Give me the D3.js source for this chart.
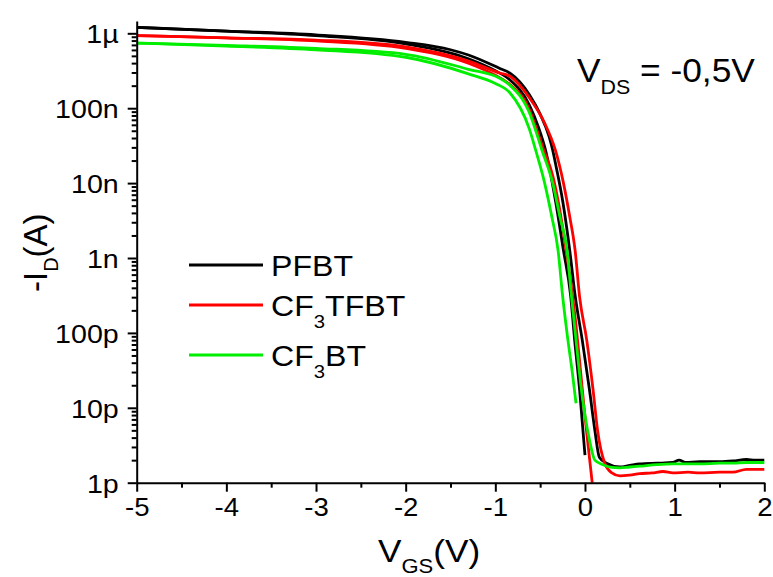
<!DOCTYPE html>
<html>
<head>
<meta charset="utf-8">
<script src="https://cdn.jsdelivr.net/npm/d3@7"></script>
<style>
  html, body { margin: 0; padding: 0; background: #fff; }
  svg { display: block; }
  text { font-family: "Liberation Sans", Arial, sans-serif; fill: #000; }
</style>
</head>
<body>
<svg id="chart" width="773" height="577"></svg>
<script>
// ---------------- data (VGS in V, -ID in A) ----------------
const xTickValues = [-5, -4, -3, -2, -1, 0, 1, 2];
const xTickLabels = ["-5", "-4", "-3", "-2", "-1", "0", "1", "2"];
const yTickValues = [1e-12, 1e-11, 1e-10, 1e-9, 1e-8, 1e-7, 1e-6];
const yTickLabels = ["1p", "10p", "100p", "1n", "10n", "100n", "1µ"];

const seriesNames = ["PFBT", "CF3TFBT", "CF3BT"];
const seriesColors = ["#000000", "#ff0000", "#00ee00"];

// PFBT : sweep from 0 V down to -5 V
const pfbtRevV = [0.00, -0.06, -0.115, -0.16, -0.24, -0.33, -0.44, -0.52, -0.62, -0.84, -1.00, -1.30, -2.00, -3.00, -4.00, -5.00];
const pfbtRevI = [2.34e-12, 1.74e-11, 7.94e-11, 3.16e-10, 1.26e-9, 5.89e-9, 2.75e-8, 5.62e-8, 1.10e-7, 2.40e-7, 3.16e-7, 4.57e-7, 7.24e-7, 9.33e-7, 1.07e-6, 1.20e-6];
// PFBT : sweep from -5 V up to 2 V
const pfbtFwdV = [-5.00, -4.00, -3.00, -2.00, -1.50, -1.30, -0.95, -0.84, -0.62, -0.50, -0.40, -0.36, -0.32, -0.25, -0.17, -0.11, -0.03, 0.05, 0.11, 0.16, 0.24, 0.39, 0.50, 0.61, 0.80, 0.98, 1.05, 1.12, 1.28, 1.50, 1.65, 1.80, 1.90, 2.00];
const pfbtFwdI = [1.20e-6, 1.07e-6, 9.55e-7, 7.59e-7, 6.03e-7, 5.13e-7, 3.39e-7, 2.95e-7, 1.51e-7, 8.32e-8, 4.17e-8, 2.75e-8, 1.62e-8, 5.89e-9, 1.26e-9, 3.16e-10, 7.94e-11, 1.74e-11, 5.01e-12, 2.19e-12, 1.82e-12, 1.62e-12, 1.70e-12, 1.78e-12, 1.82e-12, 1.86e-12, 2.00e-12, 1.86e-12, 1.91e-12, 1.91e-12, 1.95e-12, 2.04e-12, 2.00e-12, 2.00e-12];

// CF3TFBT
const cf3tfbtRevV = [0.09, 0.00, -0.05, -0.10, -0.15, -0.21, -0.29, -0.36, -0.46, -0.55, -0.62, -0.84, -1.00, -1.30, -2.00, -3.00, -4.00, -5.00];
const cf3tfbtRevI = [7.9e-13, 7.59e-12, 3.16e-11, 1.26e-10, 3.98e-10, 1.26e-9, 5.01e-9, 1.26e-8, 2.75e-8, 5.62e-8, 9.55e-8, 2.09e-7, 2.75e-7, 3.98e-7, 6.31e-7, 7.94e-7, 8.71e-7, 9.33e-7];
const cf3tfbtFwdV = [-5.00, -4.00, -3.00, -2.00, -1.30, -0.95, -0.84, -0.62, -0.45, -0.33, -0.24, -0.17, -0.11, -0.06, 0.02, 0.09, 0.14, 0.22, 0.30, 0.39, 0.50, 0.61, 0.75, 0.87, 0.98, 1.15, 1.28, 1.50, 1.65, 1.80, 2.00];
const cf3tfbtFwdI = [9.33e-7, 8.71e-7, 8.13e-7, 6.61e-7, 4.27e-7, 2.95e-7, 2.69e-7, 1.38e-7, 6.31e-8, 2.75e-8, 1.00e-8, 3.55e-9, 1.26e-9, 3.02e-10, 7.94e-11, 1.74e-11, 5.01e-12, 1.82e-12, 1.35e-12, 1.23e-12, 1.26e-12, 1.32e-12, 1.35e-12, 1.41e-12, 1.35e-12, 1.38e-12, 1.35e-12, 1.38e-12, 1.38e-12, 1.51e-12, 1.51e-12];

// CF3BT
const cf3btRevV = [-0.10, -0.14, -0.19, -0.25, -0.30, -0.37, -0.45, -0.55, -0.62, -0.84, -1.00, -1.30, -2.00, -3.00, -4.00, -5.00];
const cf3btRevI = [1.15e-11, 2.88e-11, 7.94e-11, 3.16e-10, 1.26e-9, 3.55e-9, 1.00e-8, 2.75e-8, 5.25e-8, 1.62e-7, 2.14e-7, 2.88e-7, 4.79e-7, 6.03e-7, 6.76e-7, 7.41e-7];
const cf3btFwdV = [-5.00, -4.00, -3.00, -2.00, -1.30, -0.95, -0.84, -0.62, -0.48, -0.36, -0.28, -0.20, -0.15, -0.10, -0.04, 0.05, 0.11, 0.20, 0.28, 0.39, 0.50, 0.61, 0.80, 0.98, 1.28, 1.50, 1.65, 1.80, 2.00];
const cf3btFwdI = [7.41e-7, 6.92e-7, 6.31e-7, 5.25e-7, 3.31e-7, 2.51e-7, 2.04e-7, 8.71e-8, 2.75e-8, 1.00e-8, 3.55e-9, 1.26e-9, 3.02e-10, 7.94e-11, 1.74e-11, 3.72e-12, 2.00e-12, 1.74e-12, 1.62e-12, 1.58e-12, 1.62e-12, 1.66e-12, 1.74e-12, 1.78e-12, 1.78e-12, 1.82e-12, 1.82e-12, 1.86e-12, 1.86e-12];

const sweeps = [
  { s: 0, v: pfbtRevV, i: pfbtRevI }, { s: 0, v: pfbtFwdV, i: pfbtFwdI },
  { s: 1, v: cf3tfbtRevV, i: cf3tfbtRevI }, { s: 1, v: cf3tfbtFwdV, i: cf3tfbtFwdI },
  { s: 2, v: cf3btRevV, i: cf3btRevI }, { s: 2, v: cf3btFwdV, i: cf3btFwdI }
];

// ---------------- layout ----------------
const X0 = 136.7, X1 = 764.3, YB = 482.7, YT = 21;
const svg = d3.select("#chart");

const x = d3.scaleLinear().domain([-5, 2]).range([X0, X1]);
const y = d3.scaleLog().domain([1e-12, 1.46e-6]).range([YB, YT]);

svg.append("defs").append("clipPath").attr("id", "plotclip")
  .append("rect").attr("x", X0).attr("y", 0).attr("width", X1 - X0 + 10).attr("height", YB);

const line = d3.line().x(d => x(d[0])).y(d => y(d[1])).curve(d3.curveMonotoneX);
const gLines = svg.append("g").attr("clip-path", "url(#plotclip)");
sweeps.forEach(sw => {
  const pts = sw.v.map((v, k) => [v, sw.i[k]]).sort((a, b) => a[0] - b[0]);
  gLines.append("path").datum(pts)
    .attr("d", line)
    .attr("fill", "none")
    .attr("stroke", seriesColors[sw.s])
    .attr("stroke-width", 2.8)
    .attr("stroke-linejoin", "round");
});

// ticks
const xMinor = d3.range(-4.5, 2, 1);
const yMinor = [];
yTickValues.forEach(d => { for (let m = 2; m <= 9; m++) { const v = d * m; if (v <= 1.46e-6) yMinor.push(v); } });

const gx = svg.append("g").attr("transform", `translate(0,${YB})`)
  .call(d3.axisBottom(x).tickValues(xTickValues).tickFormat((d, k) => xTickLabels[k]).tickSize(9).tickSizeOuter(0).tickPadding(4));
svg.append("g").attr("transform", `translate(0,${YB})`)
  .call(d3.axisBottom(x).tickValues(xMinor).tickFormat("").tickSize(5).tickSizeOuter(0))
  .select(".domain").remove();

const gy = svg.append("g").attr("transform", `translate(${X0},0)`)
  .call(d3.axisLeft(y).tickValues(yTickValues).tickFormat((d, k) => yTickLabels[k]).tickSize(9).tickSizeOuter(0).tickPadding(9));
svg.append("g").attr("transform", `translate(${X0},0)`)
  .call(d3.axisLeft(y).tickValues(yMinor).tickFormat("").tickSize(5).tickSizeOuter(0))
  .select(".domain").remove();

svg.selectAll(".domain").attr("stroke", "#000").attr("stroke-width", 2);
svg.selectAll(".tick line").attr("stroke", "#000").attr("stroke-width", 2);
svg.selectAll(".tick text").attr("font-size", 26).attr("font-family", "Liberation Sans, Arial, sans-serif").attr("fill", "#000");
const sxX = 1.06, sxY = 1.1;
gx.selectAll(".tick text").attr("dy", "0.78em").attr("transform", `scale(${sxX},1)`);
gy.selectAll(".tick text").attr("dy", "0.36em").attr("x", -18 / sxY).attr("transform", `scale(${sxY},1)`);

// helper for stretched text groups
function stretchedText(tx, ty, sx, rot, size) {
  const g = svg.append("g").attr("transform", `translate(${tx},${ty}) rotate(${rot}) scale(${sx},1)`);
  return g.append("text").attr("x", 0).attr("y", 0).attr("font-size", size);
}

// axis titles
const xt = stretchedText(378, 562, 1.1, 0, 32);
xt.append("tspan").text("V");
xt.append("tspan").attr("font-size", 20).attr("dy", 11).text("GS");
xt.append("tspan").attr("dy", -11).text("(V)");

const yt = stretchedText(47, 292, 1.0, -90, 33);
yt.append("tspan").text("-I");
yt.append("tspan").attr("font-size", 20).attr("dy", 11).text("D");
yt.append("tspan").attr("dy", -11).text("(A)");

// V_DS annotation
const vt = stretchedText(577, 82, 1.07, 0, 33);
vt.append("tspan").text("V");
vt.append("tspan").attr("font-size", 20).attr("dy", 12).text("DS");
vt.append("tspan").attr("dy", -12).text(" = -0,5V");

// legend
const legY = [265, 305, 355];
seriesNames.forEach((name, k) => {
  svg.append("line").attr("x1", 189).attr("x2", 263).attr("y1", legY[k]).attr("y2", legY[k])
    .attr("stroke", seriesColors[k]).attr("stroke-width", 2.8);
  const t = stretchedText(271, legY[k] + 11, 1.07, 0, 30);
  if (name.startsWith("CF3")) {
    t.append("tspan").text("CF");
    t.append("tspan").attr("font-size", 19).attr("dy", 12).text("3");
    t.append("tspan").attr("dy", -12).text(name.slice(3));
  } else {
    t.text(name);
  }
});
</script>
</body>
</html>
